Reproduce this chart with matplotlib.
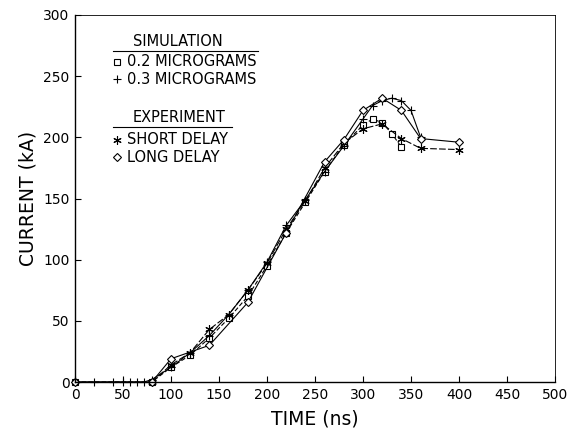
import matplotlib
matplotlib.use("Agg")
import matplotlib.pyplot as plt
from matplotlib.lines import Line2D

plt.rcParams['font.family'] = ['DejaVu Sans']

# Simulation, 0.2 micrograms
t_sim02 = [0, 80, 100, 120, 140, 160, 180, 200, 220, 240, 260, 280, 300, 310, 320, 330, 340]
i_sim02 = [0, 0, 12, 22, 36, 52, 70, 95, 122, 147, 172, 194, 210, 215, 212, 203, 192]

# Simulation, 0.3 micrograms
t_sim03 = [0, 20, 40, 50, 57, 65, 72, 80, 100, 120, 140, 160, 180, 200, 220, 240,
           260, 280, 300, 310, 320, 330, 340, 350, 360]
i_sim03 = [0, 0, 0, 0, 0, 0, 0, 2, 12, 24, 38, 55, 75, 98, 128, 149,
           172, 193, 215, 226, 230, 232, 230, 222, 200]

# Experiment, short delay
t_short = [80, 100, 120, 140, 160, 180, 200, 220, 240, 260, 280, 300, 320, 340, 360, 400]
i_short = [0, 14, 24, 43, 55, 75, 97, 125, 148, 175, 195, 207, 211, 199, 191, 190]

# Experiment, long delay
t_long = [0, 80, 100, 140, 180, 220, 260, 280, 300, 320, 340, 360, 400]
i_long = [0, 0, 19, 30, 65, 122, 180, 198, 222, 232, 222, 199, 196]

x_ticks = [0, 50, 100, 150, 200, 250, 300, 350, 400, 450, 500]
y_ticks = [0, 50, 100, 150, 200, 250, 300]

# axes box in pixels (left, right, top, bottom) of a 577x432 canvas
L, R, T, B = 75, 555, 15, 382

fig = plt.figure(figsize=(5.77, 4.32), dpi=100)
ax = fig.add_axes([L / 577, 1 - B / 432, (R - L) / 577, (B - T) / 432])

style = dict(color='black', lw=0.8, mew=0.8, clip_on=False)
ax.plot(t_sim02, i_sim02, ls=(0, (4, 2)), marker='s', ms=4, mfc='white', **style)
ax.plot(t_sim03, i_sim03, ls='-', marker='+', ms=6, **style)
ax.plot(t_short, i_short, ls=(0, (6, 2)), marker=(6, 2, 0), ms=6, **style)
ax.plot(t_long, i_long, ls='-', marker='D', ms=4, mfc='white', **style)

ax.set_xlim(0, 500)
ax.set_ylim(0, 300)
ax.set_xticks(x_ticks)
ax.set_yticks(y_ticks)
ax.tick_params(direction='in', length=4, width=0.8, labelsize=10, pad=4,
               top=False, right=False)
for side in ['left', 'bottom']:
    ax.spines[side].set_linewidth(1.0)
for side in ['top', 'right']:
    ax.spines[side].set_linewidth(0.6)
    ax.spines[side].set_linestyle((0, (3, 1)))

ax.set_xlabel('TIME (ns)', fontsize=13.5, labelpad=6)
ax.set_ylabel('CURRENT (kA)', fontsize=13.5, labelpad=4)

# Hand-built legend block in the upper left
tr = ax.transAxes
def px(x, y):
    return ((x - L) / (R - L), (B - y) / (B - T))

fs = 10.5
ax.text(*px(133, 41), 'SIMULATION', transform=tr, fontsize=fs, va='center')
ax.add_line(Line2D(*zip(px(113, 51), px(258, 51)), transform=tr, color='black', lw=0.8))
ax.plot(*px(117, 62), transform=tr, marker='s', ms=4, mfc='white', color='black', mew=0.8)
ax.text(*px(127, 62), '0.2 MICROGRAMS', transform=tr, fontsize=fs, va='center')
ax.plot(*px(117, 79), transform=tr, marker='+', ms=6, color='black', mew=0.8)
ax.text(*px(127, 79), '0.3 MICROGRAMS', transform=tr, fontsize=fs, va='center')

ax.text(*px(133, 117), 'EXPERIMENT', transform=tr, fontsize=fs, va='center')
ax.add_line(Line2D(*zip(px(113, 127), px(232, 127)), transform=tr, color='black', lw=0.8))
ax.plot(*px(117, 140), transform=tr, marker=(6, 2, 0), ms=6, color='black', mew=0.8)
ax.text(*px(127, 140), 'SHORT DELAY', transform=tr, fontsize=fs, va='center')
ax.plot(*px(117, 157), transform=tr, marker='D', ms=4, mfc='white', color='black', mew=0.8)
ax.text(*px(127, 157), 'LONG DELAY', transform=tr, fontsize=fs, va='center')

fig.savefig('out.png', dpi=100)
